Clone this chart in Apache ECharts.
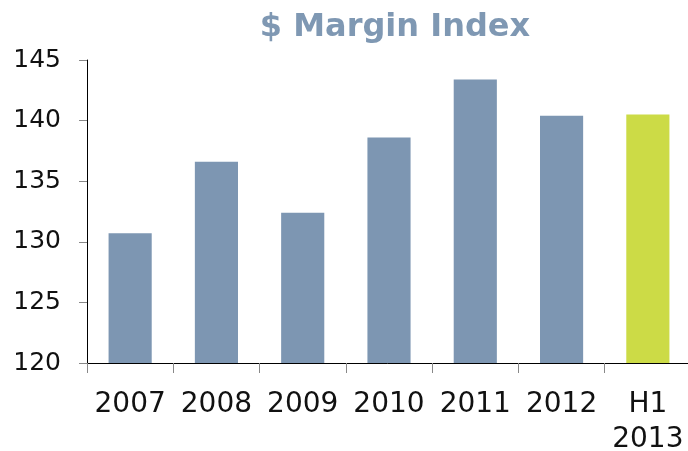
<!DOCTYPE html>
<html>
<head>
<meta charset="utf-8">
<script src="https://cdn.jsdelivr.net/npm/echarts@6/dist/echarts.min.js"></script>
<style>
    html, body { margin: 0; padding: 0; background: #fff; }
    #main { width: 688px; height: 451px; }
</style>
</head>
<body>
<div id="main"></div>
<script type="text/javascript">
    var years = ['2007', '2008', '2009', '2010', '2011', '2012', 'H1\n2013'];
    var marginIndex = [130.7, 136.6, 132.4, 138.6, 143.4, 140.4, 140.5];
    var barColors = ['#7d96b2', '#7d96b2', '#7d96b2', '#7d96b2', '#7d96b2', '#7d96b2', '#ccdb46'];

    var chart = echarts.init(document.getElementById('main'));
    var option = {
        animation: false,
        title: {
            text: '$ Margin Index',
            left: 390,
            top: 7,
            textAlign: 'center',
            textStyle: {
                fontFamily: 'DejaVu Sans',
                fontSize: 32,
                fontWeight: 'bold',
                color: '#7f98b3'
            }
        },
        grid: {
            left: 87,
            top: 60,
            width: 604,
            height: 303,
            containLabel: false,
            outerBoundsMode: 'none'
        },
        xAxis: {
            type: 'category',
            data: years,
            axisLine: { lineStyle: { color: '#000', width: 1 } },
            axisTick: { show: true, length: 10, lineStyle: { color: '#888' } },
            axisLabel: {
                interval: 0,
                margin: 24,
                fontFamily: 'DejaVu Sans',
                fontSize: 28,
                lineHeight: 35,
                color: '#111'
            },
            splitLine: { show: false }
        },
        yAxis: {
            type: 'value',
            min: 120,
            max: 145,
            interval: 5,
            axisLine: { show: true, lineStyle: { color: '#000', width: 1 } },
            axisTick: { show: true, length: 8, lineStyle: { color: '#888' } },
            axisLabel: {
                margin: 26,
                fontFamily: 'DejaVu Sans',
                fontSize: 25,
                color: '#111'
            },
            splitLine: { show: false }
        },
        series: [{
            type: 'bar',
            barWidth: '50%',
            data: marginIndex.map(function (v, i) {
                return { value: v, itemStyle: { color: barColors[i] } };
            })
        }]
    };
    chart.setOption(option);
</script>
</body>
</html>
